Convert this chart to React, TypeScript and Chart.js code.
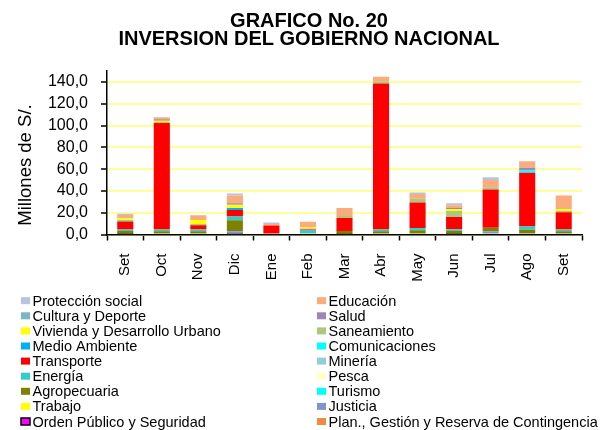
import React, { useEffect, useRef } from "react";
import { Chart, registerables } from "chart.js";

Chart.register(...registerables);

const months = ["Set", "Oct", "Nov", "Dic", "Ene", "Feb", "Mar", "Abr", "May", "Jun", "Jul", "Ago", "Set"];
const yTicks = [0, 20, 40, 60, 80, 100, 120, 140];

// stacking order: bottom first
const plan = [0, 0, 0, 0, 0, 0, 0, 0, 0, 0, 0, 0, 0];
const orden = [0.3, 0, 0, 0.3, 0, 0, 0.3, 0, 0, 0.3, 0, 0, 0];
const justicia = [0, 0, 0, 2.7, 0, 0, 0, 0, 0, 0, 3, 0, 0];
const trabajo = [0, 0, 0, 0, 0, 0, 0, 0, 0, 0, 0, 0, 0];
const turismo = [0, 0, 0, 0, 0, 0, 0, 0, 0, 0, 0, 0, 0];
const agropecuaria = [3, 3, 3, 10, 0, 0, 3, 3, 3.9, 3, 3.3, 4.3, 3];
const pesca = [0, 0, 0, 0, 0, 0, 0, 0, 0, 0, 0, 0, 0];
const energia = [1.2, 1.5, 1.5, 3.6, 0, 3.6, 0, 1.5, 2.1, 1.5, 0, 3, 1.5];
const mineria = [0, 0, 0, 0, 0, 0, 0, 0, 0, 0, 0, 0, 0];
const transporte = [7.5, 98, 4, 5.8, 8.2, 1, 11.8, 134, 23.3, 11.2, 35, 49.4, 15.8];
const comunicaciones = [0.3, 0, 0, 0, 0, 0, 0, 0, 0, 0, 0, 2.1, 0];
const medioAmbiente = [0, 0, 0, 1.8, 0, 0, 0, 0, 0, 0, 0, 0, 0];
const saneamiento = [1, 0, 1.2, 0, 0, 0.8, 1.8, 2.1, 3.6, 5.5, 2.1, 0, 1.5];
const vivienda = [1.5, 1.8, 3.6, 3, 0, 1.2, 0, 0, 0, 1.8, 0, 0, 1.5];
const salud = [0.5, 1.5, 0, 1.5, 0, 0, 0, 0, 0, 0.9, 0, 2.4, 0];
const cultura = [0, 0, 0, 0, 0, 0, 0, 0, 0, 0, 0, 0, 0];
const educacion = [2.5, 1.8, 4, 7, 1.5, 5.2, 7.3, 4.2, 4.2, 2.7, 6.7, 6, 12.4];
const proteccion = [1.3, 0, 0.6, 2, 1.2, 0, 0, 0, 1.5, 1.8, 2.4, 0, 0];

const series = [
  { label: "Plan., Gestión y Reserva de Contingencia", data: plan, color: "#f08c40" },
  { label: "Orden Público y Seguridad", data: orden, color: "#ff00ff", border: "#000000" },
  { label: "Justicia", data: justicia, color: "#8096c6" },
  { label: "Trabajo", data: trabajo, color: "#ffff00" },
  { label: "Turismo", data: turismo, color: "#00ffff" },
  { label: "Agropecuaria", data: agropecuaria, color: "#808000" },
  { label: "Pesca", data: pesca, color: "#ffffcc" },
  { label: "Energía", data: energia, color: "#33cccc" },
  { label: "Minería", data: mineria, color: "#92cddc" },
  { label: "Transporte", data: transporte, color: "#ff0000" },
  { label: "Comunicaciones", data: comunicaciones, color: "#00ffff" },
  { label: "Medio Ambiente", data: medioAmbiente, color: "#00b0f0" },
  { label: "Saneamiento", data: saneamiento, color: "#aec77e" },
  { label: "Vivienda y Desarrollo Urbano", data: vivienda, color: "#ffff00" },
  { label: "Salud", data: salud, color: "#9c87b8" },
  { label: "Cultura y Deporte", data: cultura, color: "#7ab6ca" },
  { label: "Educación", data: educacion, color: "#fbac7c" },
  { label: "Protección social", data: proteccion, color: "#b8c4de" },
];

const FONT = "'Liberation Sans', Arial, sans-serif";

const customPlugin = {
  id: "customDecor",
  afterDraw(chart: any) {
    const ctx = chart.ctx;
    ctx.save();
    // Title
    ctx.fillStyle = "#000";
    ctx.textAlign = "center";
    ctx.textBaseline = "alphabetic";
    ctx.font = `bold 20px ${FONT}`;
    ctx.fillText("GRAFICO No. 20", 309, 27);
    ctx.fillText("INVERSION DEL GOBIERNO NACIONAL", 309, 45);

    // Y axis title
    ctx.save();
    ctx.translate(31, 165);
    ctx.rotate(-Math.PI / 2);
    ctx.font = `18.5px ${FONT}`;
    ctx.textAlign = "center";
    ctx.textBaseline = "alphabetic";
    ctx.fillText("Millones de S/.", 0, 0);
    ctx.restore();

    // Legend: reverse of stack order, two columns
    const ds = chart.data.datasets.slice().reverse();
    ctx.font = `14.5px ${FONT}`;
    ctx.textAlign = "left";
    ctx.textBaseline = "middle";
    ds.forEach((d: any, i: number) => {
      const col = i % 2;
      const row = Math.floor(i / 2);
      const bx = col === 0 ? 21 : 317;
      const cy = 300.7 + row * 15.1;
      ctx.fillStyle = d.legendColor;
      ctx.fillRect(bx, cy - 3.5, 9, 7);
      if (d.legendBorder) {
        ctx.strokeStyle = d.legendBorder;
        ctx.lineWidth = 1.5;
        ctx.strokeRect(bx, cy - 3.5, 9, 7);
      }
      ctx.fillStyle = "#000";
      ctx.fillText(d.label, bx + 11.5, cy + 1);
    });
    ctx.restore();
  },
};

export default function App() {
  const ref = useRef<HTMLCanvasElement | null>(null);
  useEffect(() => {
    if (!ref.current) return;
    const chart = new Chart(ref.current, {
      type: "bar",
      data: {
        labels: months,
        datasets: series.map((s) => ({
          label: s.label,
          data: s.data,
          backgroundColor: s.color,
          borderColor: s.border || s.color,
          borderWidth: (c: any) => (s.border && c.raw > 0 ? 2 : 0),
          barPercentage: 0.44,
          categoryPercentage: 1,
          legendColor: s.color,
          legendBorder: s.border,
        })) as any,
      },
      options: {
        responsive: false,
        animation: false,
        devicePixelRatio: 1,
        layout: { padding: { top: 71, right: 20, left: 0, bottom: 0 } },
        plugins: {
          legend: { display: false },
          title: { display: false },
          tooltip: { enabled: false },
        },
        scales: {
          x: {
            stacked: true,
            afterFit: (s: any) => {
              s.height = 195.5;
            },
            grid: {
              display: true,
              drawOnChartArea: false,
              offset: true,
              tickLength: 6,
              tickColor: "#000",
              tickWidth: 1.5,
            },
            border: { color: "#000", width: 1.5 },
            ticks: {
              minRotation: 90,
              maxRotation: 90,
              color: "#000",
              padding: 13,
              font: { size: 15, family: FONT },
            },
          },
          y: {
            stacked: true,
            min: 0,
            max: 150,
            afterFit: (s: any) => {
              s.width = 107;
            },
            afterBuildTicks: (s: any) => {
              s.ticks = yTicks.map((v) => ({ value: v }));
            },
            grid: {
              color: "#ffff99",
              lineWidth: 2,
              tickLength: 6,
              tickColor: "#000",
              tickWidth: 1.5,
            },
            border: { color: "#000", width: 1.5 },
            ticks: {
              color: "#000",
              padding: 13,
              font: { size: 16, family: FONT },
              callback: (v: any) => Number(v).toFixed(1).replace(".", ","),
            },
          },
        },
      },
      plugins: [customPlugin],
    });
    return () => chart.destroy();
  }, []);
  return (
    <div style={{ position: "absolute", left: 0, top: 0, width: 602, height: 430, background: "#fff" }}>
      <canvas ref={ref} width={602} height={430} style={{ width: 602, height: 430 }} />
    </div>
  );
}
